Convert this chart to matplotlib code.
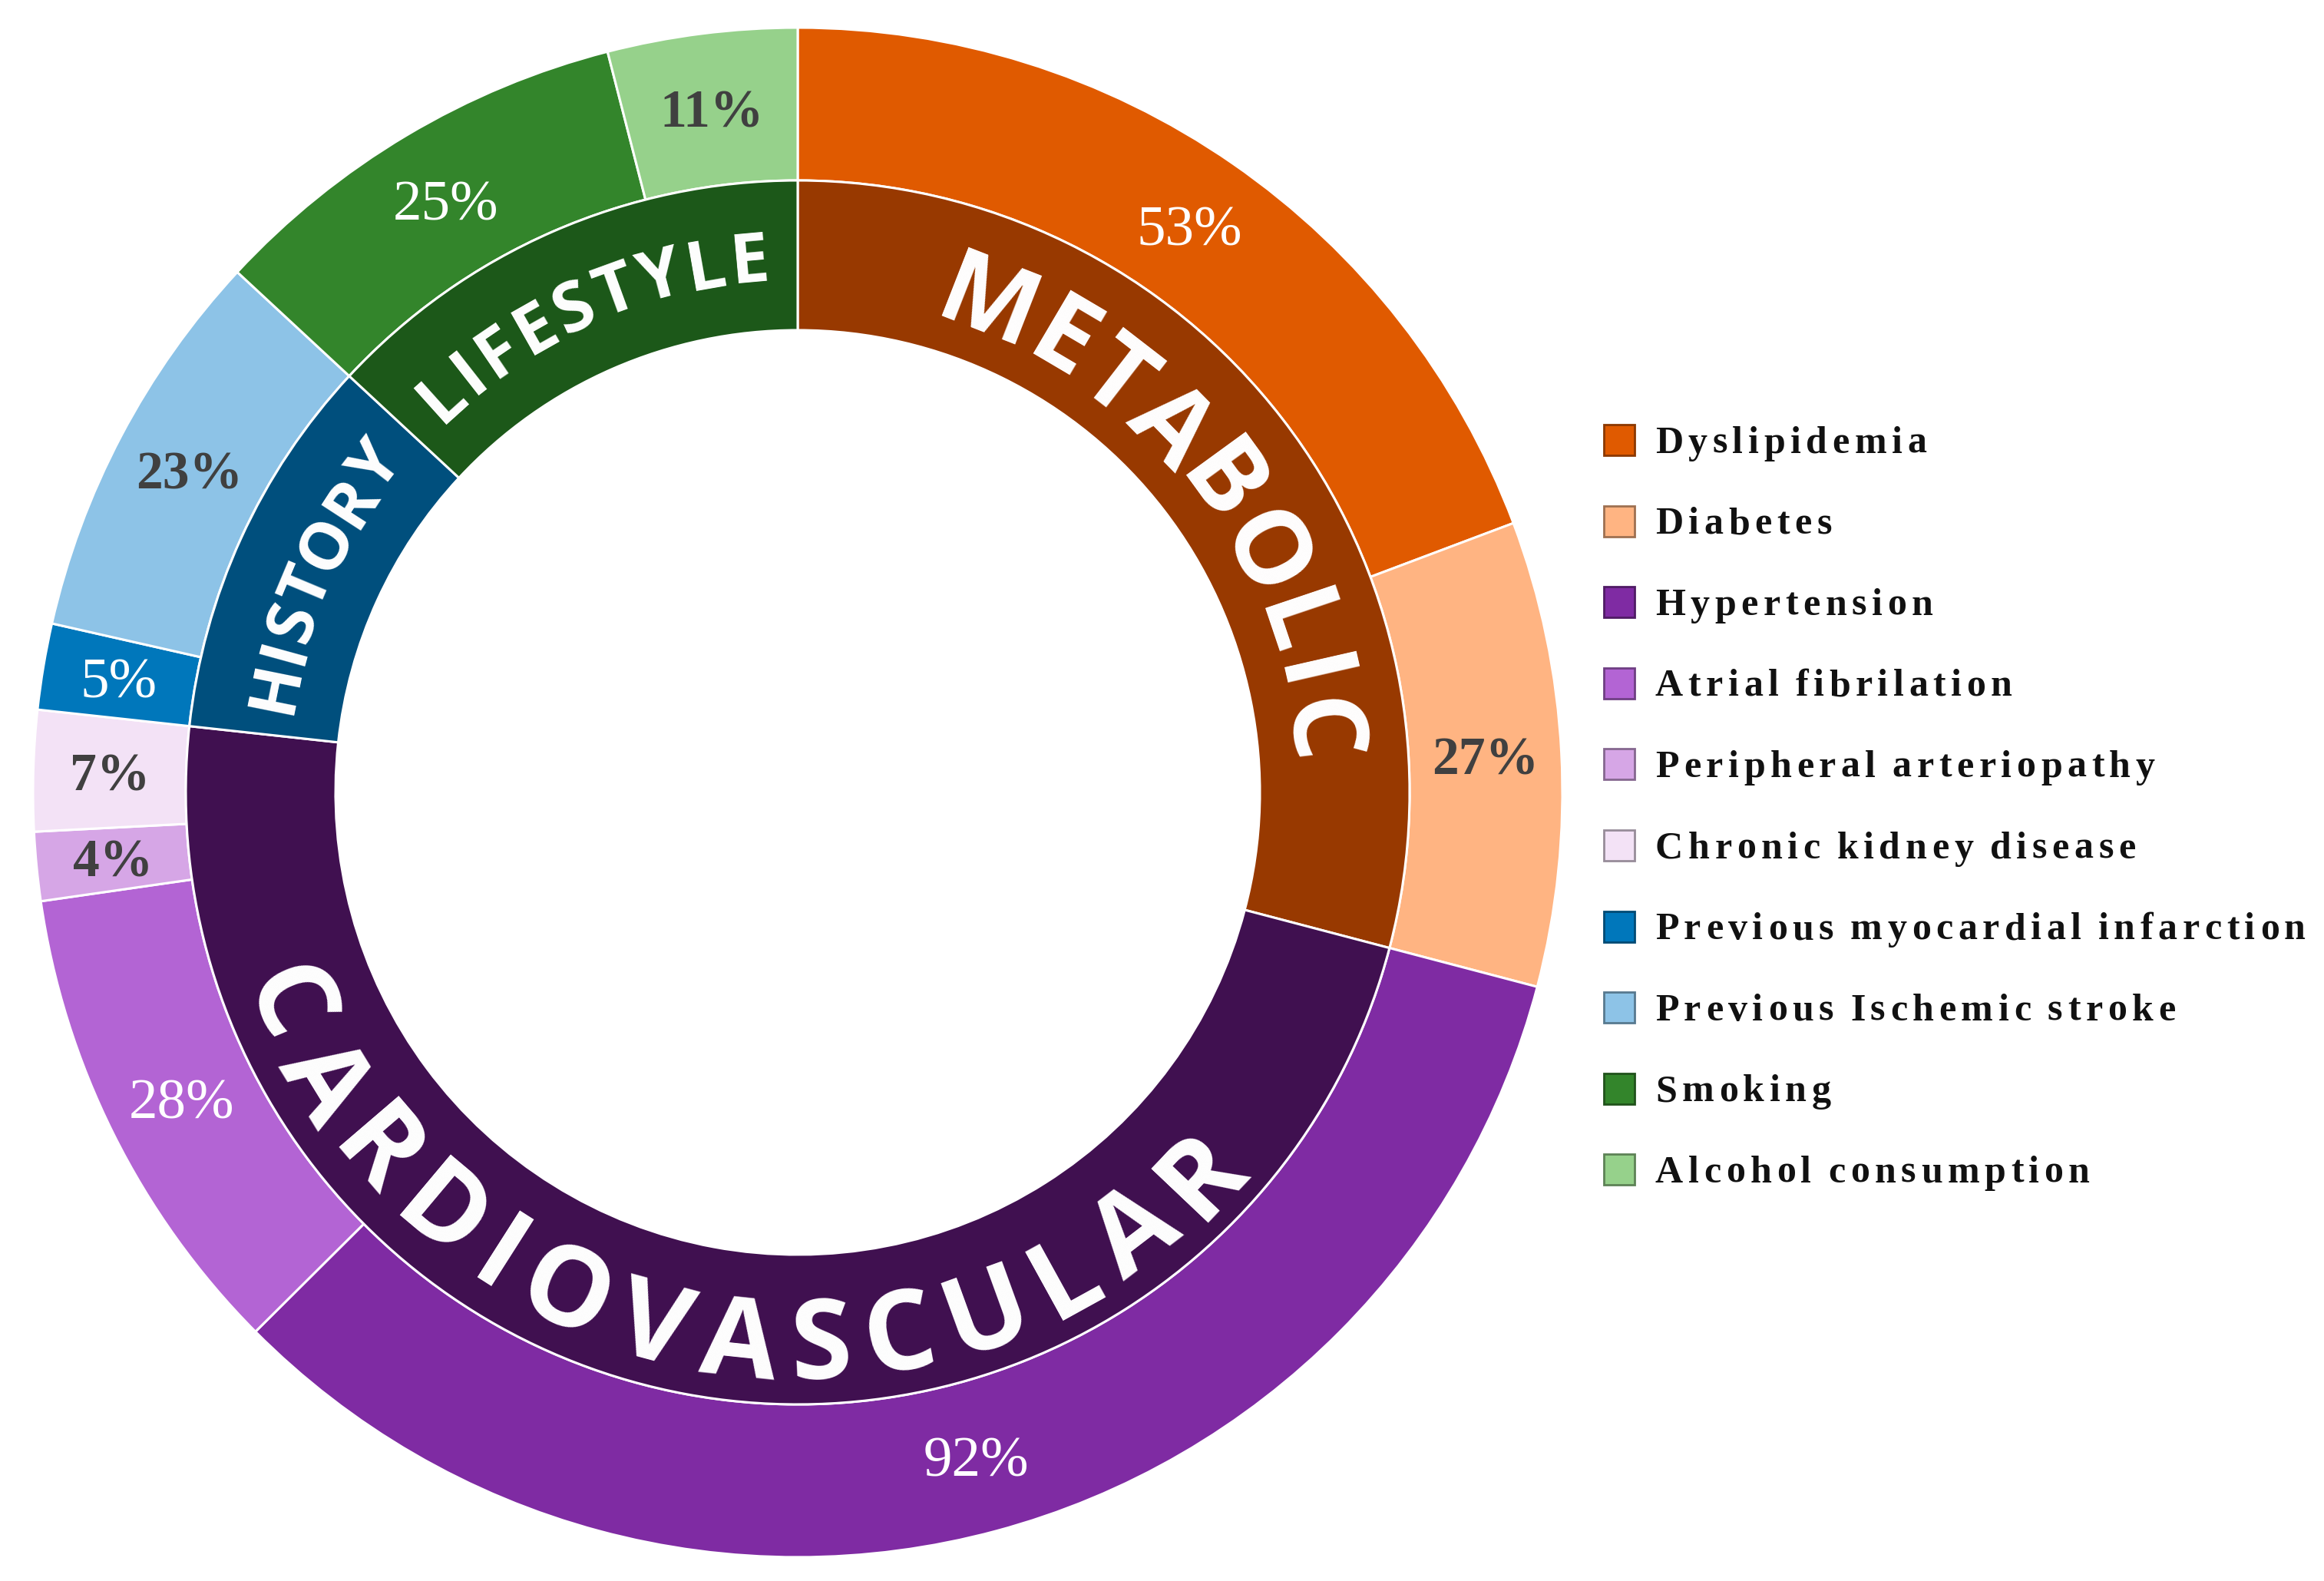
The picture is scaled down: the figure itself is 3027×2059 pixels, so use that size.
import matplotlib
matplotlib.use("Agg")
import matplotlib.pyplot as plt
from matplotlib.colors import to_rgb
from matplotlib.patches import Rectangle
import numpy as np

# --- data ---
items = ["Dyslipidemia", "Diabetes", "Hypertension", "Atrial fibrilation",
         "Peripheral arteriopathy", "Chronic kidney disease",
         "Previous myocardial infarction", "Previous Ischemic stroke",
         "Smoking", "Alcohol consumption"]
item_values = [53, 27, 92, 28, 4, 7, 5, 23, 25, 11]
item_group = [0, 0, 1, 1, 1, 1, 2, 2, 3, 3]
groups = ["METABOLIC", "CARDIOVASCULAR", "HISTORY", "LIFESTYLE"]

# --- styles ---
item_colors = ["#E05A00", "#FFB482", "#7F2BA3", "#B364D4", "#D6A6E6",
               "#F3E2F6", "#0077BB", "#8DC3E7", "#33852B", "#96D18B"]
item_text_colors = ["white", "#404040", "white", "white", "#404040",
                    "#404040", "white", "#404040", "white", "#404040"]
group_colors = ["#983900", "#401050", "#004F7D", "#1C5819"]
group_font_pt = [97, 104, 62, 65]
group_span_deg = [62, 114, 26.3, 36.8]
group_radius = [690, 712, 700, 700]
group_outward = [True, False, True, True]

W, H, DPI = 3027, 2059, 100
CX, CY = 1039, H - 1032
R_OUT, R_MID, R_IN = 996, 797, 602

group_values = [sum(v for v, g in zip(item_values, item_group) if g == k)
                for k in range(len(groups))]

fig = plt.figure(figsize=(W / DPI, H / DPI), dpi=DPI)
ax = fig.add_axes([0, 0, 1, 1])

ring = dict(edgecolor="white", linewidth=2.2)
outer, _ = ax.pie(item_values, radius=R_OUT, center=(CX, CY), startangle=90,
                  counterclock=False, colors=item_colors,
                  wedgeprops=dict(width=R_OUT - R_MID, **ring))
inner, _ = ax.pie(group_values, radius=R_MID, center=(CX, CY), startangle=90,
                  counterclock=False, colors=group_colors,
                  wedgeprops=dict(width=R_MID - R_IN, **ring))
ax.set_xlim(0, W)
ax.set_ylim(0, H)
ax.set_aspect("equal")
ax.axis("off")

renderer = fig.canvas.get_renderer()


def char_widths(text, **kw):
    widths = []
    for ch in text:
        t = ax.text(0, 0, ch, **kw)
        widths.append(t.get_window_extent(renderer).width)
        t.remove()
    return widths


# percentage labels in the outer ring
for w, v, tc in zip(outer, item_values, item_text_colors):
    th = np.radians((w.theta1 + w.theta2) / 2)
    r = 0.9 * R_OUT
    size = 54 if tc == "white" else 50
    ax.text(CX + r * np.cos(th), CY + r * np.sin(th) - 0.33 * size * DPI / 72,
            f"{v}%", ha="center", va="baseline", fontsize=size, color=tc,
            family="Liberation Serif",
            fontweight="normal" if tc == "white" else "bold")


# curved group names in the inner ring
def curved_label(text, mid_deg, span_deg, size, radius, outward):
    kw = dict(fontsize=size, fontweight="bold", family="Open Sans", color="white")
    ws = char_widths(text, **kw)
    cap = 0.714 * size * DPI / 72
    centres = sum((ws[i] + ws[i + 1]) / 2 for i in range(len(ws) - 1))
    gap = (np.radians(span_deg) * radius - centres) / (len(ws) - 1)
    sign = -1 if outward else 1
    start = mid_deg - sign * span_deg / 2
    r_base = radius - cap / 2 if outward else radius + cap / 2
    s = 0.0
    for i, ch in enumerate(text):
        if i:
            s += (ws[i - 1] + ws[i]) / 2 + gap
        theta = start + sign * np.degrees(s / radius)
        rot = theta - 90 if outward else theta + 90
        t = np.radians(theta)
        ax.text(CX + r_base * np.cos(t), CY + r_base * np.sin(t), ch,
                rotation=rot, rotation_mode="anchor", ha="center",
                va="baseline", **kw)


for w, name, size, span, rad, out in zip(inner, groups, group_font_pt,
                                          group_span_deg, group_radius,
                                          group_outward):
    curved_label(name, (w.theta1 + w.theta2) / 2, span, size, rad, out)

# legend with letter-spaced labels
LEG_X, LEG_TOP, LEG_STEP, BOX = 2089, 573, 105.6, 40
TEXT_X, TEXT_RIGHT, WORD_GAP = 2156, 3003, 3.3
leg_kw = dict(fontsize=36, fontweight="bold", family="Liberation Serif",
              color="#111111")
leg_cap = 0.662 * 36 * DPI / 72
leg_widths = [char_widths(name, **leg_kw) for name in items]


def gap_counts(name):
    n_sp = name.count(" ")
    return len(name) - 1 - 2 * n_sp, n_sp


# tracking chosen so the longest label ends where the reference's does
longest = max(range(len(items)), key=lambda k: len(items[k]))
n_in, n_sp = gap_counts(items[longest])
ink = sum(cw for ch, cw in zip(items[longest], leg_widths[longest]) if ch != " ")
track = (TEXT_RIGHT - TEXT_X - ink) / (n_in + n_sp * WORD_GAP)

for i, (name, col) in enumerate(zip(items, item_colors)):
    yc = H - (LEG_TOP + i * LEG_STEP)
    edge = tuple(c * 0.62 for c in to_rgb(col))
    ax.add_patch(Rectangle((LEG_X, yc - BOX / 2), BOX, BOX, facecolor=col,
                           edgecolor=edge, linewidth=2))
    x = TEXT_X
    for ch, cw in zip(name, leg_widths[i]):
        if ch == " ":
            x += track * (WORD_GAP - 1)
            continue
        ax.text(x, yc - leg_cap / 2, ch, ha="left", va="baseline", **leg_kw)
        x += cw + track

fig.savefig("out.png", dpi=DPI)
